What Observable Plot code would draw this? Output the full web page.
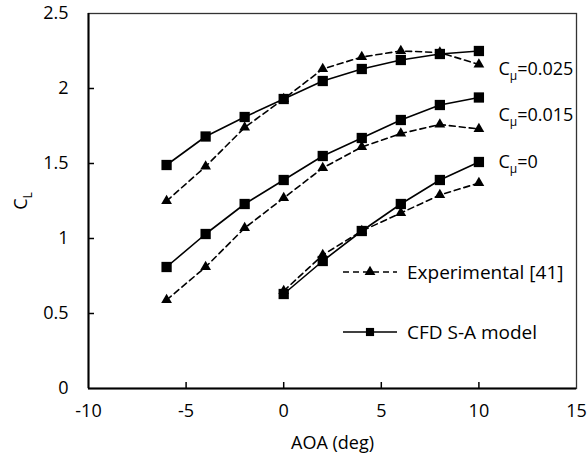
<!DOCTYPE html>
<html><head><meta charset="utf-8">
<script src="https://cdn.jsdelivr.net/npm/d3@7"></script>
<script src="https://cdn.jsdelivr.net/npm/@observablehq/plot@0.6"></script>
<style>body{margin:0;background:#fff}</style>
</head><body><div id="chart"></div>
<script>
// AOA (deg)
const aoa = [-6, -4, -2, 0, 2, 4, 6, 8, 10];
const aoa0 = [0, 2, 4, 6, 8, 10];
// C_L values
const cfd025 = [1.49, 1.68, 1.81, 1.93, 2.05, 2.13, 2.19, 2.23, 2.25];
const exp025 = [1.25, 1.48, 1.74, 1.93, 2.13, 2.21, 2.25, 2.24, 2.16];
const cfd015 = [0.81, 1.03, 1.23, 1.39, 1.55, 1.67, 1.79, 1.89, 1.94];
const exp015 = [0.59, 0.81, 1.07, 1.27, 1.47, 1.61, 1.70, 1.76, 1.73];
const cfd0 = [0.63, 0.85, 1.05, 1.23, 1.39, 1.51];
const exp0 = [0.65, 0.89, 1.05, 1.17, 1.29, 1.37];
// annotations
const seriesLabels = ["Cμ=0.025", "Cμ=0.015", "Cμ=0"];
const seriesLabelX = [11, 11, 11];
const seriesLabelY = [2.13, 1.82, 1.51];
const legendLabels = ["Experimental [41]", "CFD S-A model"];
const xTicks = [-10, -5, 0, 5, 10, 15];
const yTicks = [0, 0.5, 1, 1.5, 2, 2.5];
const xTitle = "AOA (deg)";

const rows = [];
function add(xs, ys, g, type) { xs.forEach((x, i) => rows.push({x, y: ys[i], g, type})); }
add(aoa, cfd025, "0.025", "cfd"); add(aoa, exp025, "0.025", "exp");
add(aoa, cfd015, "0.015", "cfd"); add(aoa, exp015, "0.015", "exp");
add(aoa0, cfd0, "0", "cfd"); add(aoa0, exp0, "0", "exp");
const cfd = rows.filter(d => d.type === "cfd");
const exp = rows.filter(d => d.type === "exp");
const labels = seriesLabels.map((t, i) => ({t, x: seriesLabelX[i], y: seriesLabelY[i]}));

const FONT = "Open Sans";
const FS = 18;
const W = 587, H = 469, ML = 88, MR = 11, MT = 13, MB = 81;
const PW = W - ML - MR, PH = H - MT - MB;
const fig = Plot.plot({
  width: W, height: H,
  marginLeft: ML, marginRight: MR, marginTop: MT, marginBottom: MB,
  style: {fontFamily: FONT, fontSize: FS + "px", color: "#000", background: "#fff"},
  x: {domain: [-10, 15], label: null},
  y: {domain: [0, 2.5], label: null},
  marks: [
    Plot.axisX({ticks: xTicks, tickSize: 0, tickPadding: 16, tickFormat: d => String(d), label: null}),
    Plot.axisY({ticks: yTicks, tickSize: 0, tickPadding: 20, tickFormat: d => String(d), label: null}),
    Plot.ruleX(xTicks.slice(1, -1), {x: d => d, insetTop: PH - 6, stroke: "#000", strokeWidth: 1.5}),
    Plot.ruleY(yTicks.slice(1, -1), {y: d => d, insetRight: PW - 6, stroke: "#000", strokeWidth: 1.5}),
    Plot.frame({stroke: "#333", strokeWidth: 1.3}),
    Plot.ruleX([-10], {stroke: "#000", strokeWidth: 2}),
    Plot.ruleY([0], {stroke: "#000", strokeWidth: 2}),
    Plot.line(exp, {x: "x", y: "y", z: "g", stroke: "#000", strokeWidth: 1.6, strokeDasharray: "6,4"}),
    Plot.line(cfd, {x: "x", y: "y", z: "g", stroke: "#000", strokeWidth: 1.6}),
    Plot.dot(exp, {x: "x", y: "y", symbol: "triangle", fill: "#000", r: 4}),
    Plot.dot(cfd, {x: "x", y: "y", symbol: "square", fill: "#000", r: 5.8}),
    Plot.text(labels, {x: "x", y: "y", text: "t", textAnchor: "start", fill: "#000", fontSize: FS}),
    Plot.text([xTitle], {frameAnchor: "bottom", dy: 60, fill: "#000", fontSize: FS})
  ]
});

const svg = d3.select(fig);
// subscript μ in series labels
svg.selectAll("text").filter(function() { return this.textContent.startsWith("Cμ"); }).each(function() {
  const t = d3.select(this);
  const s = this.textContent;
  t.text(null);
  t.append("tspan").text("C");
  t.append("tspan").attr("dy", 5).attr("font-size", 12).text("μ");
  t.append("tspan").attr("dy", -5).text(s.slice(2));
});

// y title C_L
const yt = svg.append("text").attr("transform", "translate(27,201) rotate(-90)")
  .attr("text-anchor", "middle").attr("font-family", FONT).attr("font-size", FS).attr("fill", "#000");
yt.append("tspan").text("C");
yt.append("tspan").attr("dy", 5).attr("font-size", 12).text("L");

// legend
const lg = svg.append("g").attr("font-family", FONT).attr("font-size", 19).attr("fill", "#000").attr("text-anchor", "start");
const rowsY = [272, 332];
const sym = [d3.symbol(d3.symbolTriangle, Math.PI * 16), d3.symbol(d3.symbolSquare, Math.PI * 4.6 * 4.6)];
legendLabels.forEach((lab, i) => {
  const y = rowsY[i];
  lg.append("line").attr("x1", 343).attr("x2", 397).attr("y1", y).attr("y2", y)
    .attr("stroke", "#000").attr("stroke-width", 1.6).attr("stroke-dasharray", i === 0 ? "6,4" : null);
  lg.append("path").attr("d", sym[i]()).attr("transform", `translate(370,${y})`).attr("fill", "#000");
  lg.append("text").attr("x", 407).attr("y", y).attr("dy", "0.35em").attr("text-anchor", "start").text(lab);
});

document.getElementById("chart").append(fig);
</script>
</body></html>
